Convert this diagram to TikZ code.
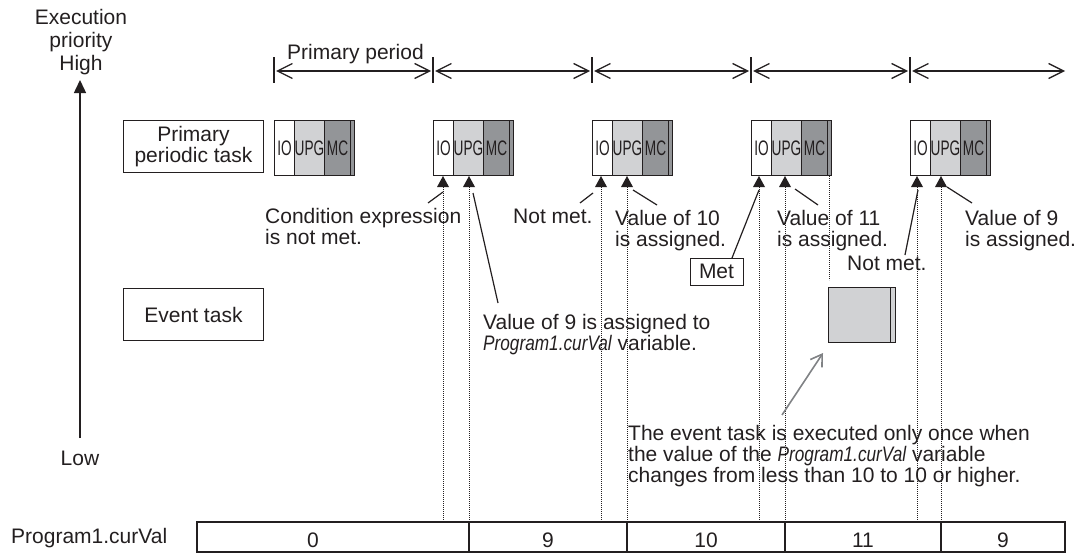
\documentclass[tikz,border=0pt]{standalone}
\usepackage{fontspec}
\setmainfont{Liberation Sans}
\usetikzlibrary{arrows.meta}
\definecolor{lg}{HTML}{D1D2D4}
\definecolor{dg}{HTML}{939598}
\definecolor{ink}{HTML}{231F20}
\definecolor{arrgray}{HTML}{808285}
\newcommand{\cnd}[1]{\scalebox{0.65}[1]{#1}}
\newcommand{\pvar}{\scalebox{0.82}[1]{\itshape Program1.curVal}}
\begin{document}
\begin{tikzpicture}[x=1pt,y=-1pt,
  every node/.style={text=ink, inner sep=0pt},
  txt/.style={font=\fontsize{21}{21}\selectfont, align=left},
  cell/.style={draw=ink, line width=1pt, anchor=north west, minimum height=55pt, font=\fontsize{21}{21}\selectfont},
  boxnode/.style={draw=ink, line width=1pt, font=\fontsize{21}{21.5}\selectfont, align=center},
  dotline/.style={ink, line width=0.7pt, dash pattern=on 0.8pt off 1.2pt},
  leader/.style={ink, line width=1.2pt},
  period/.style={ink, line width=1.3pt, {Straight Barb[length=15pt,width=15pt]}-{Straight Barb[length=15pt,width=15pt]}},
  tick/.style={ink, line width=1.3pt},
  tri/.style={fill=ink}
]
\useasboundingbox (0,0) rectangle (1082,554);

% priority axis
\node[txt, align=center, anchor=north, font=\fontsize{21}{23}\selectfont] (exec) at (81,9) {Execution\\priority\\High};
\coordinate (axbot) at (80,438);
\coordinate (axtop) at (80,80);
\draw[ink, line width=1.5pt, -{Triangle[length=13pt,width=12pt]}] (axbot) -- (axtop);
\node[txt, anchor=base] (low) at (80,465) {Low};

% task labels
\node[boxnode, minimum width=140pt, minimum height=52pt, anchor=north west] (ppt) at (123,120) {Primary\\periodic task};
\node[boxnode, minimum width=140pt, minimum height=52pt, anchor=north west] (evt) at (123,288) {Event task};

% period arrows
\foreach \n/\x in {1/274,2/433,3/592,4/751,5/910}{
  \coordinate (t\n) at (\x,57);
  \draw[tick] (\x,57) -- (\x,83);
}
\coordinate (tend) at (1065,71);
\foreach \a/\b in {274/433,433/592,592/751,751/910}{
  \draw[period] (\a+2,71) -- (\b-2,71);
}
\draw[period] (912,71) -- (tend);
\node[txt, anchor=base west] (pp) at (287,59) {Primary period};

% primary periodic task blocks
\foreach \n/\x in {1/274,2/433,3/592,4/751,5/910}{
  \node[cell, fill=white, minimum width=20pt] (io\n) at (\x,120) {\cnd{IO}};
  \node[cell, fill=lg, minimum width=30pt] (upg\n) at (\x+20,120) {\cnd{UPG}};
  \node[cell, fill=dg, minimum width=26pt] (mc\n) at (\x+50,120) {\cnd{MC}};
  \node[cell, fill=dg, minimum width=4pt] (st\n) at (\x+76,120) {};
}

% trigger markers with dotted lines down to the value bar
\foreach \n/\xa/\xb in {2/443/469,3/601/627,4/759/785,5/917/941}{
  \fill[tri] (\xa,176) -- (\xa-6,187) -- (\xa+6,187) -- cycle;
  \fill[tri] (\xb,176) -- (\xb-6,187) -- (\xb+6,187) -- cycle;
  \draw[dotline] (\xa,187) -- (\xa,521);
  \draw[dotline] (\xb,187) -- (\xb,521);
}
\draw[dotline] (829,176) -- (829,280);

% event task execution
\node[cell, fill=lg, minimum width=62pt, minimum height=55pt] (ev1) at (828,287) {};
\node[cell, fill=lg, minimum width=5pt, minimum height=55pt] (ev2) at (890,287) {};

% annotations
\node[txt, anchor=north west] (cond) at (265,208) {Condition expression\\is not met.};
\draw[leader] (428,203) -- (443,192);

\node[txt, anchor=north west] (v9a) at (483,314) {Value of 9 is assigned to\\\pvar{} variable.};
\draw[leader] (473,193) -- (498,303);

\node[txt, anchor=base west] (nm3) at (513,223) {Not met.};
\draw[leader] (580,203) -- (593,193);

\node[txt, anchor=north west] (v10) at (615,210) {Value of 10\\is assigned.};
\draw[leader] (633,190) -- (657,205);

\node[boxnode, minimum width=53pt, minimum height=27pt] (met) at (716.5,271.5) {Met};
\draw[leader] (732,258) -- (759,190);

\node[txt, anchor=north west] (v11) at (777,210) {Value of 11\\is assigned.};
\draw[leader] (795,189) -- (818,205);

\node[txt, anchor=base west] (nm5) at (847,270) {Not met.};
\draw[leader] (905,255) -- (918,190);

\node[txt, anchor=north west] (v9b) at (965,210) {Value of 9\\is assigned.};
\draw[leader] (947,187) -- (972,203);

\node[txt, anchor=north west] (note) at (628,425) {The event task is executed only once when\\the value of the \pvar{} variable\\changes from less than 10 to 10 or higher.};
\coordinate (ga) at (782,415);
\coordinate (gb) at (823,353);
\draw[arrgray, line width=1.6pt, -{Straight Barb[length=11pt,width=14pt]}] (ga) -- (gb);

% value bar
\node[txt, anchor=base west] (pv) at (11,543) {Program1.curVal};
\foreach \n/\a/\b in {1/197/469,2/469/627,3/627/785,4/785/941,5/941/1065}{
  \draw[ink, line width=1.1pt] (\a,522) rectangle (\b,552);
}
\node[txt, anchor=base] (c1) at (313,547) {0};
\node[txt, anchor=base] (c2) at (548,547) {9};
\node[txt, anchor=base] (c3) at (706,547) {10};
\node[txt, anchor=base] (c4) at (863,547) {11};
\node[txt, anchor=base] (c5) at (1003,547) {9};
\end{tikzpicture}
\end{document}
